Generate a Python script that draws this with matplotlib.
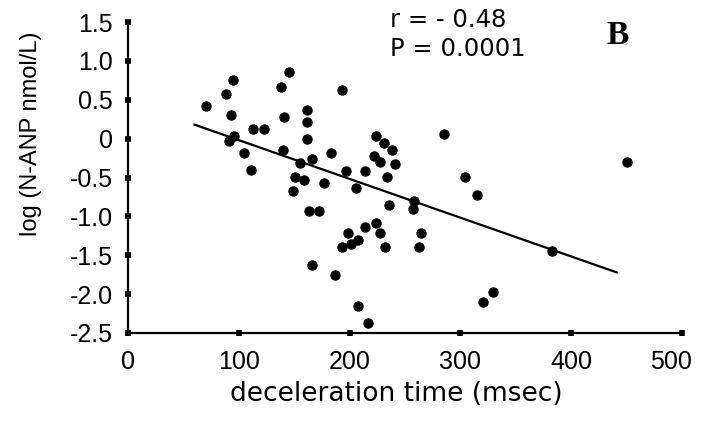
import numpy as np
import matplotlib
matplotlib.use("Agg")
import matplotlib.pyplot as plt
import matplotlib.transforms as mtransforms

# deceleration time (msec) and log(N-ANP)
dt_msec = [70, 88, 95, 93, 96, 91, 105, 111, 113, 123,
           138, 145, 141, 140, 162, 162, 162, 166, 155, 151,
           159, 149, 193, 183, 177, 197, 214, 206, 224, 231,
           238, 222, 227, 241, 234, 163, 172, 236, 224, 214,
           227, 199, 208, 193, 201, 232, 166, 187, 208, 217,
           285, 258, 257, 264, 263, 304, 315, 329, 320, 383,
           450]
log_nanp = [0.42, 0.57, 0.75, 0.31, 0.04, -0.03, -0.18, -0.40, 0.13, 0.13,
            0.66, 0.86, 0.28, -0.15, 0.37, 0.21, 0.00, -0.26, -0.31, -0.49,
            -0.53, -0.68, 0.63, -0.19, -0.57, -0.42, -0.42, -0.63, 0.04, -0.05,
            -0.15, -0.22, -0.30, -0.33, -0.49, -0.93, -0.93, -0.85, -1.08, -1.14,
            -1.22, -1.22, -1.30, -1.39, -1.35, -1.39, -1.63, -1.76, -2.15, -2.37,
            0.06, -0.80, -0.91, -1.21, -1.39, -0.49, -0.73, -1.97, -2.10, -1.45,
            -0.30]

# regression line end points
fit_x = [60, 441]
fit_y = [0.18, -1.72]

x_ticks = [0, 100, 200, 300, 400, 500]
x_labels = ["0", "100", "200", "300", "400", "500"]
y_ticks = [1.5, 1.0, 0.5, 0, -0.5, -1.0, -1.5, -2.0, -2.5]
y_labels = ["1.5", "1.0", "0.5", "0", "-0.5", "-1.0", "-1.5", "-2.0", "-2.5"]

plt.rcParams['font.family'] = ['Liberation Sans', 'DejaVu Sans']

fig = plt.figure(figsize=(7.01, 4.25), dpi=100)
ax = fig.add_axes([128 / 701, 92 / 425, 554 / 701, 311 / 425])

ax.plot(dt_msec, log_nanp, 'o', color='black', markersize=6.5, clip_on=False)
ax.plot(fit_x, fit_y, color='black', linewidth=1.6)

ax.set_xlim(0, 500)
ax.set_ylim(-2.5, 1.5)
ax.set_xticks(x_ticks)
ax.set_xticklabels(x_labels, fontsize=18)
ax.set_yticks(y_ticks)
ax.set_yticklabels(y_labels, fontsize=18)

for side in ['top', 'right']:
    ax.spines[side].set_visible(False)
for side in ['left', 'bottom']:
    ax.spines[side].set_linewidth(1.6)
ax.tick_params(axis='both', direction='inout', length=4, width=4, color='black')
ax.tick_params(axis='x', pad=10)
ax.tick_params(axis='y', pad=9)

# the last x label sits a little left of its tick, as in the source
shift = mtransforms.ScaledTranslation(-11 / 100, 0, fig.dpi_scale_trans)
last = ax.get_xticklabels()[-1]
last.set_transform(last.get_transform() + shift)

ax.set_xlabel("deceleration time (msec)", fontsize=19, family=['DejaVu Sans'])
ax.xaxis.set_label_coords(0.484, -0.155)
ax.set_ylabel("log (N-ANP nmol/L)", fontsize=17)
ax.yaxis.set_label_coords(-0.155, 0.64)

fig.text(390 / 701, 1 - 8 / 425, "r = - 0.48", fontsize=17.5, va='top', ha='left',
         family=['DejaVu Sans'])
fig.text(390 / 701, 1 - 37 / 425, "P = 0.0001", fontsize=17.5, va='top', ha='left',
         family=['DejaVu Sans'])
fig.text(606 / 701, 1 - 20 / 425, "B", fontsize=24, fontweight='bold',
         family=['Liberation Serif', 'DejaVu Serif'], va='top', ha='left')

fig.savefig("out.png", dpi=100)
